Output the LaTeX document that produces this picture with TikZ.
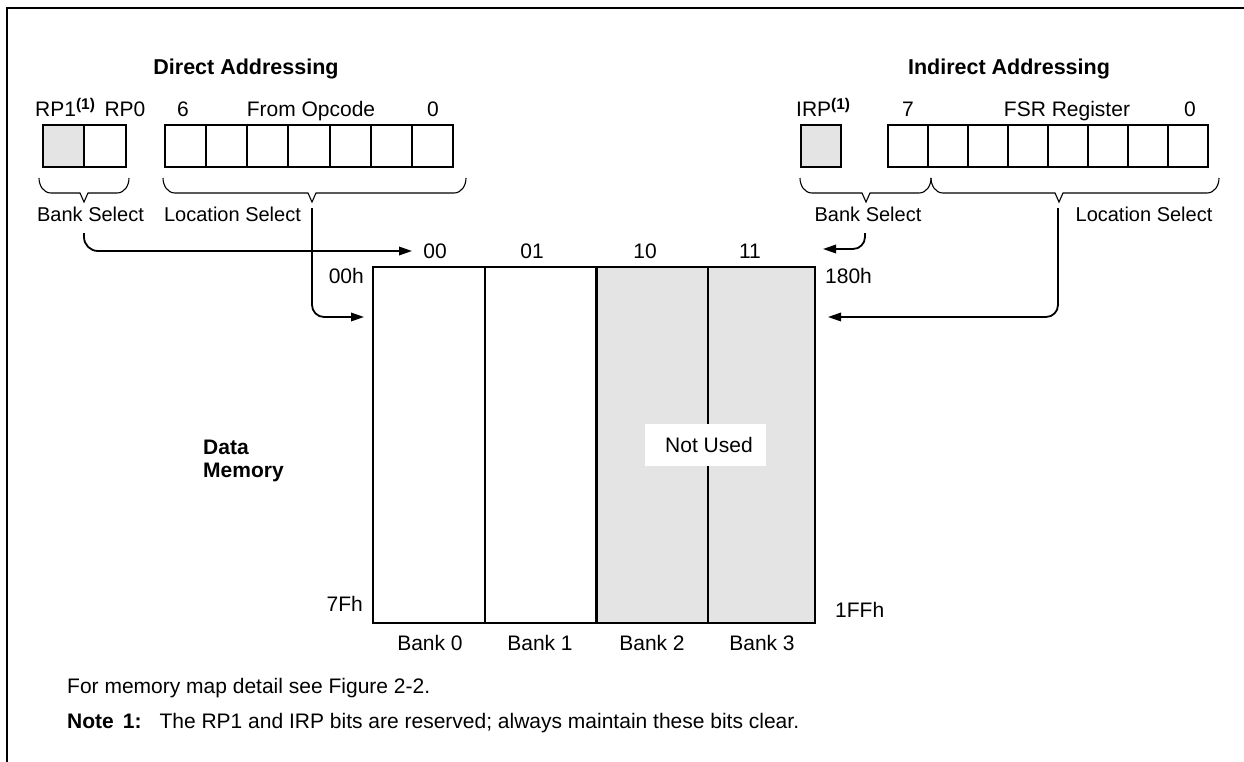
\documentclass[tikz,border=0pt]{standalone}
\usepackage{fontspec}
\setmainfont{Liberation Sans}
\usetikzlibrary{arrows.meta}
\definecolor{lg}{RGB}{228,228,228}
\newcommand{\ubrace}[3]{\draw[brc] (#1,178) to[out=-90,in=180] (#1+12,193) -- (#3-4,193) -- (#3,202) -- (#3+4,193) -- (#2-12,193) to[out=0,in=-90] (#2,178);}
\newcommand{\supone}{\raisebox{7pt}{\fontsize{15.5}{16}\selectfont\bfseries(1)}}
\begin{document}
\begin{tikzpicture}[x=1pt,y=-1pt,
  txt/.style={inner sep=0pt, font=\fontsize{21}{25}\selectfont},
  seltxt/.style={inner sep=0pt, font=\fontsize{20}{24}\selectfont},
  ttl/.style={inner sep=0pt, font=\fontsize{21.5}{25}\selectfont\bfseries},
  cell/.style={draw, line width=2pt, minimum width=41.14pt, minimum height=42pt, inner sep=0pt},
  graycell/.style={cell, fill=lg},
  brc/.style={line width=1.1pt},
  arr/.style={line width=1.8pt, -{Triangle[length=13pt,width=8.5pt]}},
  divider/.style={line width=2pt},
]
\useasboundingbox (0,0) rectangle (1244,762);
\draw[line width=2.8pt] (7,764) -- (7,8) -- (1246,8);

% titles
\node[ttl, anchor=base] (dtitle) at (246,75) {Direct Addressing};
\node[ttl, anchor=base] (ititle) at (1009,75) {Indirect Addressing};

% bit labels
\node[txt, anchor=base west] (rp1) at (35,117) {RP1\supone};
\node[txt, anchor=base] (rp0) at (125,117) {RP0};
\node[txt, anchor=base] (b6) at (183,117) {6};
\node[txt, anchor=base] (fo) at (311,117) {From Opcode};
\node[txt, anchor=base] (bz) at (433,117) {0};
\node[txt, anchor=base west] (irp) at (796,117) {IRP\supone};
\node[txt, anchor=base] (b7) at (908,117) {7};
\node[txt, anchor=base] (fsrl) at (1067,117) {FSR Register};
\node[txt, anchor=base] (fz) at (1190,117) {0};

% register cells
\node[graycell, minimum width=41pt] (rp1c) at (63.5,146) {};
\node[cell, minimum width=42pt] (rp0c) at (105,146) {};
\foreach \i in {0,...,6} \node[cell] (op\i) at ({165+41.14*(\i+0.5)},146) {};
\node[graycell, minimum width=40pt] (irpc) at (821,146.5) {};
\foreach \i in {0,...,7} \node[cell, minimum width=40pt] (fsr\i) at ({888+40*(\i+0.5)},146.5) {};

% braces
\ubrace{39}{129}{84}
\ubrace{163}{466}{312}
\ubrace{800}{931}{866}
\ubrace{931}{1219}{1059}

% select labels
\node[seltxt, anchor=base] (bsL) at (90.5,222) {Bank Select};
\node[seltxt, anchor=base] (lsL) at (232.5,222) {Location Select};
\node[seltxt, anchor=base] (bsR) at (868,222) {Bank Select};
\node[seltxt, anchor=base] (lsR) at (1144,222) {Location Select};

% column labels
\node[txt, anchor=base] (c00) at (435,258) {00};
\node[txt, anchor=base] (c01) at (532,258) {01};
\node[txt, anchor=base] (c10) at (645,258) {10};
\node[txt, anchor=base] (c11) at (750,258) {11};

% memory block
\fill[lg] (596,267) rectangle (815,623);
\node[draw, line width=2pt, minimum width=442pt, minimum height=356pt, inner sep=0pt] (mem) at (594,445) {};
\draw[divider] (485,267) -- (485,623);
\draw[divider] (708,267) -- (708,623);
\draw[line width=3pt] (596,267) -- (596,623);
\node[fill=white, inner sep=0pt, minimum width=121pt, minimum height=42pt, font=\fontsize{21}{25}\selectfont] (nu) at (705.5,445) {\hspace{7pt}Not Used};

% address labels
\node[txt, anchor=base east] (a00) at (364,283) {00h};
\node[txt, anchor=base east] (a7f) at (363,611) {7Fh};
\node[txt, anchor=base west] (a180) at (825,283) {180h};
\node[txt, anchor=base west] (a1ff) at (835,617) {1FFh};

% bank labels
\node[txt, anchor=base] (bk0) at (430,650) {Bank 0};
\node[txt, anchor=base] (bk1) at (540,650) {Bank 1};
\node[txt, anchor=base] (bk2) at (652,650) {Bank 2};
\node[txt, anchor=base] (bk3) at (762,650) {Bank 3};

% data memory
\node[ttl, font=\fontsize{21}{25}\selectfont\bfseries, anchor=base west] (dm1) at (203,454) {Data};
\node[ttl, font=\fontsize{21}{25}\selectfont\bfseries, anchor=base west] (dm2) at (203,477) {Memory};

% notes
\node[txt, anchor=base west] (fm) at (67,693) {For memory map detail see Figure 2-2.};
\node[txt, anchor=base west] (note) at (67,728) {\textbf{Note\hspace{9pt}1:}\hspace{18pt}The RP1 and IRP bits are reserved; always maintain these bits clear.};

% connectors
\coordinate (bsLo) at (84,233);
\coordinate (t00) at (412,251);
\draw[arr, rounded corners=14pt] (bsLo) |- (t00);
\coordinate (lsLo) at (312,208);
\coordinate (inL) at (364,317);
\draw[arr, rounded corners=12pt] (lsLo) |- (inL);
\coordinate (bsRo) at (865,233);
\coordinate (t11) at (823,249);
\draw[arr, rounded corners=12pt] (bsRo) |- (t11);
\coordinate (lsRo) at (1058,208);
\coordinate (inR) at (828,317);
\draw[arr, rounded corners=12pt] (lsRo) |- (inR);
\end{tikzpicture}
\end{document}
